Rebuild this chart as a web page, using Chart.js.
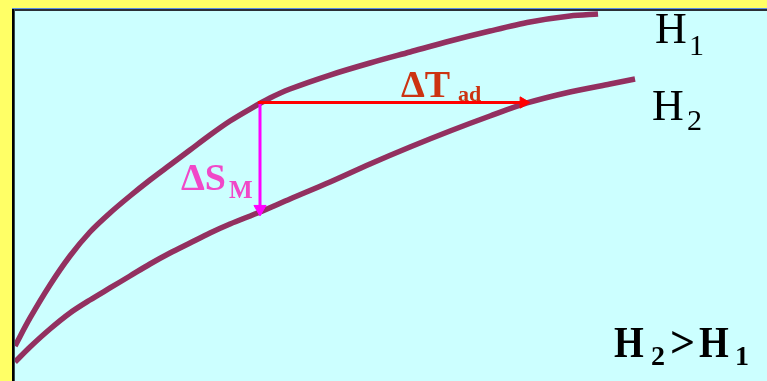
<!DOCTYPE html>
<html>
<head>
<meta charset="utf-8">
<script src="https://cdn.jsdelivr.net/npm/chart.js@4"></script>
<style>
  html, body { margin: 0; padding: 0; background: #ffff66; }
  canvas { display: block; }
</style>
</head>
<body>
<canvas id="chart" width="767" height="381"></canvas>
<script>
// curve H1 (upper) and H2 (lower), 0..100 units
const h1X = [0, 2.0, 4.65, 7.31, 9.97, 12.63, 15.29, 17.95, 20.61, 23.27, 25.93, 28.59, 31.25,
             33.91, 36.57, 41.89, 47.21, 52.53, 57.85, 63.16, 68.48, 73.80, 77.53];
const h1Y = [9.46, 17.03, 25.95, 33.78, 40.27, 45.41, 50.0, 54.32, 58.38, 62.43, 66.49, 70.27, 73.51,
             76.49, 78.92, 82.70, 85.95, 88.92, 91.89, 94.59, 97.03, 98.65, 99.19];
const h2X = [0, 2.0, 4.65, 7.31, 9.97, 12.63, 15.29, 17.95, 20.61, 23.27, 25.93, 28.59, 32.58,
             36.57, 41.89, 47.21, 52.53, 57.85, 63.16, 68.09, 73.80, 79.12, 82.45];
const h2Y = [5.14, 9.19, 14.05, 18.38, 21.89, 25.14, 28.38, 31.62, 34.59, 37.30, 40.0, 42.43, 45.68,
             49.19, 53.78, 58.65, 63.24, 67.57, 71.62, 75.14, 78.11, 80.27, 81.62];

// arrows: delta T (horizontal) and delta S (vertical)
const dTX = [32.3, 67.6];
const dTY = [75.27, 75.27];
const dSX = [32.58, 32.58];
const dSY = [75.27, 46.5];

const toPts = (xs, ys) => xs.map((x, i) => ({ x: x, y: ys[i] }));

const CURVE = "#933060";

// background, frame and text labels
const decor = {
    id: "decor",
    beforeDraw(chart) {
        const c = chart.ctx, a = chart.chartArea;
        c.save();
        c.fillStyle = "#ffff66";
        c.fillRect(0, 0, chart.width, chart.height);
        c.fillStyle = "#ccffff";
        c.fillRect(a.left, a.top, a.right - a.left, a.bottom - a.top);
        c.restore();
    },
    afterDraw(chart) {
        const c = chart.ctx, a = chart.chartArea;
        c.save();
        // top edge
        c.fillStyle = "#5c8fe8";
        c.fillRect(a.left - 3, a.top - 3, chart.width, 1);
        c.fillStyle = "#2a2f36";
        c.fillRect(a.left - 3, a.top - 2, chart.width, 2);
        // left edge
        c.fillStyle = "#000000";
        c.fillRect(a.left - 3, a.top - 2, 2, chart.height);
        c.fillStyle = "#3a4a4e";
        c.fillRect(a.left - 1, a.top - 2, 1, chart.height);

        const glyph = (t, x, y, font, color, sx) => {
            c.save();
            c.font = font;
            c.fillStyle = color;
            c.textBaseline = "alphabetic";
            c.textAlign = "left";
            c.translate(x, y);
            c.scale(sx || 1, 1);
            c.fillText(t, 0, 0);
            c.restore();
        };
        const serif = "'Liberation Serif', 'DejaVu Serif', serif";
        // H1 / H2 curve labels
        glyph("H", 655, 43, "44px " + serif, "#000");
        glyph("1", 689, 55, "30px " + serif, "#000");
        glyph("H", 652, 120, "44px " + serif, "#000");
        glyph("2", 687, 130, "30px " + serif, "#000");
        // H2>H1
        glyph("H", 614, 357, "bold 44px " + serif, "#000", 0.87);
        glyph("2", 651, 365, "bold 28px " + serif, "#000");
        glyph(">", 670, 357, "bold 44px " + serif, "#000");
        glyph("H", 699, 357, "bold 44px " + serif, "#000", 0.87);
        glyph("1", 735, 365, "bold 28px " + serif, "#000");
        // delta T ad
        glyph("\u0394T", 401, 97, "bold 38px " + serif, "#cc3311");
        glyph("ad", 458, 101, "bold 22px " + serif, "#cc3311");
        // delta S M
        glyph("\u0394S", 181, 190, "bold 38px " + serif, "#f048c8");
        glyph("M", 229, 198, "bold 25px " + serif, "#f048c8");
        c.restore();
    }
};

new Chart(document.getElementById("chart").getContext("2d"), {
    type: "scatter",
    data: {
        datasets: [
            {
                label: "dT",
                data: toPts(dTX, dTY),
                showLine: true,
                borderColor: "#ff0000",
                backgroundColor: "#ff0000",
                borderWidth: 3,
                pointStyle: "triangle",
                pointRadius: [0, 6.5],
                pointRotation: [0, 90],
                pointBorderWidth: 1,
                pointBorderColor: "#ff0000"
            },
            {
                label: "dS",
                data: toPts(dSX, dSY),
                showLine: true,
                borderColor: "#ff00ff",
                backgroundColor: "#ff00ff",
                borderWidth: 3,
                pointStyle: "triangle",
                pointRadius: [0, 7],
                pointRotation: [0, 180],
                pointBorderWidth: 1,
                pointBorderColor: "#ff00ff"
            },
            {
                label: "H1",
                data: toPts(h1X, h1Y),
                showLine: true,
                borderColor: CURVE,
                borderWidth: 5.5,
                pointRadius: 0,
                tension: 0.3
            },
            {
                label: "H2",
                data: toPts(h2X, h2Y),
                showLine: true,
                borderColor: CURVE,
                borderWidth: 5.5,
                pointRadius: 0,
                tension: 0.3
            }
        ]
    },
    options: {
        responsive: false,
        animation: false,
        layout: { autoPadding: false, padding: { left: 15, top: 11, right: 0, bottom: 0 } },
        plugins: {
            legend: { display: false },
            tooltip: { enabled: false }
        },
        scales: {
            x: { type: "linear", min: 0, max: 100, display: false },
            y: { type: "linear", min: 0, max: 100, display: false }
        }
    },
    plugins: [decor]
});
</script>
</body>
</html>
